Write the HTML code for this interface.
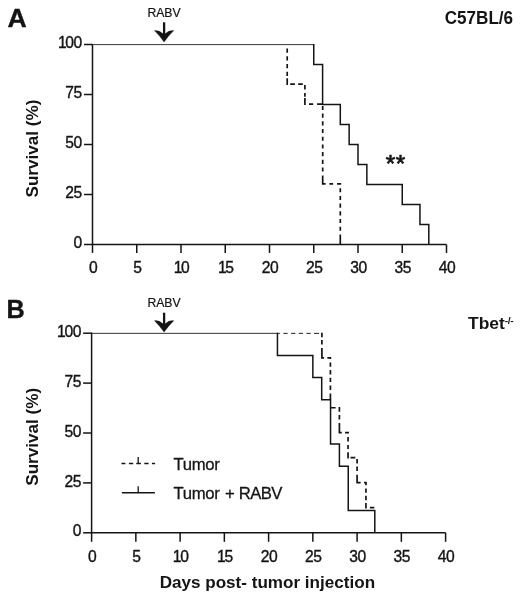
<!DOCTYPE html>
<html lang="en">
<head>
<meta charset="utf-8">
<title>Survival curves</title>
<style>
html,body{margin:0;padding:0;background:#fff;}
svg{display:block;}
text{font-family:"Liberation Sans", sans-serif;fill:#141414;}
.tk{font-size:17.2px;letter-spacing:-0.5px;stroke:#141414;stroke-width:0.4px;}
.b{font-weight:bold;}
.lg{stroke:#141414;stroke-width:0.3px;}
.ax{stroke:#141414;stroke-width:1.5;fill:none;}
.cv{stroke:#141414;stroke-width:1.5;fill:none;}
.dsh{stroke:#141414;stroke-width:1.7;fill:none;}
</style>
</head>
<body>
<svg width="521" height="600" viewBox="0 0 521 600">
<rect width="521" height="600" fill="#ffffff"/>

<!-- Panel A -->
<path class="ax" d="M92.5 44.0V244.5H446.5"/>
<path class="ax" d="M84.0 244.5H92.5"/>
<text class="tk" transform="translate(81.8 248.1) scale(0.91 1)" text-anchor="end">0</text>
<path class="ax" d="M84.0 194.5H92.5"/>
<text class="tk" transform="translate(81.8 198.1) scale(0.91 1)" text-anchor="end">25</text>
<path class="ax" d="M84.0 144.5H92.5"/>
<text class="tk" transform="translate(81.8 148.1) scale(0.91 1)" text-anchor="end">50</text>
<path class="ax" d="M84.0 94.5H92.5"/>
<text class="tk" transform="translate(81.8 98.1) scale(0.91 1)" text-anchor="end">75</text>
<path class="ax" d="M84.0 44.5H92.5"/>
<text class="tk" transform="translate(81.8 48.1) scale(0.91 1)" text-anchor="end">1<tspan dx="-1">00</tspan></text>
<path class="ax" d="M92.5 244.5V252.9"/>
<text class="tk" transform="translate(93.0 273.1) scale(0.91 1)" text-anchor="middle">0</text>
<path class="ax" d="M136.75 244.5V252.9"/>
<text class="tk" transform="translate(137.25 273.1) scale(0.91 1)" text-anchor="middle">5</text>
<path class="ax" d="M181.0 244.5V252.9"/>
<text class="tk" transform="translate(181.5 273.1) scale(0.91 1)" text-anchor="middle">1<tspan dx="-1">0</tspan></text>
<path class="ax" d="M225.25 244.5V252.9"/>
<text class="tk" transform="translate(225.75 273.1) scale(0.91 1)" text-anchor="middle">1<tspan dx="-1">5</tspan></text>
<path class="ax" d="M269.5 244.5V252.9"/>
<text class="tk" transform="translate(270.0 273.1) scale(0.91 1)" text-anchor="middle">20</text>
<path class="ax" d="M313.75 244.5V252.9"/>
<text class="tk" transform="translate(314.25 273.1) scale(0.91 1)" text-anchor="middle">25</text>
<path class="ax" d="M358.0 244.5V252.9"/>
<text class="tk" transform="translate(358.5 273.1) scale(0.91 1)" text-anchor="middle">30</text>
<path class="ax" d="M402.25 244.5V252.9"/>
<text class="tk" transform="translate(402.75 273.1) scale(0.91 1)" text-anchor="middle">35</text>
<path class="ax" d="M446.5 244.5V252.9"/>
<text class="tk" transform="translate(447.0 273.1) scale(0.91 1)" text-anchor="middle">40</text>
<path d="M93 44.6H313.75" stroke="#3a3a3a" stroke-width="1" fill="none"/>
<path class="cv" d="M313.75 44.1H313.75V64.5H322.6V104.5H340.3V124.5H349.15V144.5H358.0V164.5H366.85V184.5H402.25V204.5H419.95V224.5H428.8V244.5"/>
<path class="dsh" d="M287.2 48.5V52.8 M287.2 56.25V60.55 M287.2 64.0V68.3 M287.2 71.75V76.05 M287.2 78.3V84.95 M290.2 84.2H294.9 M298.2 84.2H302.8 M304.9 85.0V89.5 M304.9 93.1V96.7 M304.9 98.1V105.05 M309.0 104.2H313.2 M317.1 104.2H322.6 M322.70000000000005 105.9V110.0 M322.70000000000005 113.6V117.7 M322.70000000000005 121.3V125.4 M322.70000000000005 129.0V133.1 M322.70000000000005 136.7V140.8 M322.70000000000005 144.4V148.5 M322.70000000000005 152.1V156.2 M322.70000000000005 159.8V163.9 M322.70000000000005 167.5V171.6 M322.70000000000005 175.4V184.75 M322.7 183.9H325.6 M329.4 183.9H333.1 M337.05 183.9H341.15 M340.3 188.2V192.3 M340.3 195.9V200.0 M340.3 203.6V207.7 M340.3 211.3V215.4 M340.3 219.0V223.1 M340.3 226.7V230.8 M340.3 234.4V244.5"/>
<!-- Panel B -->
<path class="ax" d="M91.6 332.6V532.8H445.6"/>
<path class="ax" d="M83.1 532.8H91.6"/>
<text class="tk" transform="translate(80.89999999999999 536.4) scale(0.91 1)" text-anchor="end">0</text>
<path class="ax" d="M83.1 482.9H91.6"/>
<text class="tk" transform="translate(80.89999999999999 486.5) scale(0.91 1)" text-anchor="end">25</text>
<path class="ax" d="M83.1 433.0H91.6"/>
<text class="tk" transform="translate(80.89999999999999 436.6) scale(0.91 1)" text-anchor="end">50</text>
<path class="ax" d="M83.1 383.1H91.6"/>
<text class="tk" transform="translate(80.89999999999999 386.7) scale(0.91 1)" text-anchor="end">75</text>
<path class="ax" d="M83.1 333.2H91.6"/>
<text class="tk" transform="translate(80.89999999999999 336.8) scale(0.91 1)" text-anchor="end">1<tspan dx="-1">00</tspan></text>
<path class="ax" d="M91.6 532.8V541.8"/>
<text class="tk" transform="translate(92.1 561.9) scale(0.91 1)" text-anchor="middle">0</text>
<path class="ax" d="M135.85 532.8V541.8"/>
<text class="tk" transform="translate(136.35 561.9) scale(0.91 1)" text-anchor="middle">5</text>
<path class="ax" d="M180.1 532.8V541.8"/>
<text class="tk" transform="translate(180.6 561.9) scale(0.91 1)" text-anchor="middle">1<tspan dx="-1">0</tspan></text>
<path class="ax" d="M224.35 532.8V541.8"/>
<text class="tk" transform="translate(224.85 561.9) scale(0.91 1)" text-anchor="middle">1<tspan dx="-1">5</tspan></text>
<path class="ax" d="M268.6 532.8V541.8"/>
<text class="tk" transform="translate(269.1 561.9) scale(0.91 1)" text-anchor="middle">20</text>
<path class="ax" d="M312.85 532.8V541.8"/>
<text class="tk" transform="translate(313.35 561.9) scale(0.91 1)" text-anchor="middle">25</text>
<path class="ax" d="M357.1 532.8V541.8"/>
<text class="tk" transform="translate(357.6 561.9) scale(0.91 1)" text-anchor="middle">30</text>
<path class="ax" d="M401.35 532.8V541.8"/>
<text class="tk" transform="translate(401.85 561.9) scale(0.91 1)" text-anchor="middle">35</text>
<path class="ax" d="M445.6 532.8V541.8"/>
<text class="tk" transform="translate(446.1 561.9) scale(0.91 1)" text-anchor="middle">40</text>
<path d="M92 333.35H280.1" stroke="#333" stroke-width="1" fill="none"/>
<path d="M283.4 333.35H287.7 M291.07 333.35H295.37 M298.74 333.35H303.04 M306.41 333.35H310.71 M314.0 333.35H319.1" stroke="#222" stroke-width="1" fill="none"/>
<path class="dsh" d="M321.9 332.8V337.2 M321.9 340.1V344.5 M321.9 348.1V358.7 M321.9 357.85H324.1 M327.4 357.85H331.15 M330.40000000000003 357.85V359.1 M330.40000000000003 362.4V366.8 M330.40000000000003 370.1V374.5 M330.40000000000003 377.7V382.1 M330.40000000000003 385.6V390.0 M330.40000000000003 393.4V399.6 M330.7 407.75H335.65 M339.4 407.0V411.8 M339.4 415.1V419.5 M339.4 423.1V433.55 M339.4 432.7H341.8 M345.0 432.7H349.0 M348.05 437.0V441.4 M348.05 445.1V449.1 M348.05 452.35V458.5 M350.5 457.65H355.3 M357.1 458.9V463.4 M357.1 466.6V471.0 M357.1 474.7V483.45 M357.1 482.6H360.65 M364.0 482.6H366.8 M365.95 482.6V485.3 M365.95 488.5V492.7 M365.95 495.8V500.2 M365.95 503.1V508.5 M369.9 507.55H374.3"/>
<path class="cv" d="M277.45 332.8H277.45V355.38H312.85V377.56H321.7V399.73H330.55V444.09H339.4V466.27H348.25V510.62H374.8V532.8"/>
<path d="M164.1 22.3V37" stroke="#141414" stroke-width="2.3" fill="none"/><path d="M164.1 42 Q159.7 35.7 154.5 30.6 Q159.1 30.0 163.0 33.7 L165.2 33.7 Q169.1 30.0 173.7 30.6 Q168.5 35.7 164.1 42 Z" fill="#141414" stroke="#141414" stroke-width="0.4" stroke-linejoin="miter"/>
<path d="M164.1 312.7V327.1" stroke="#141414" stroke-width="2.3" fill="none"/><path d="M164.1 332.1 Q159.7 325.8 154.5 320.7 Q159.1 320.1 163.0 323.8 L165.2 323.8 Q169.1 320.1 173.7 320.7 Q168.5 325.8 164.1 332.1 Z" fill="#141414" stroke="#141414" stroke-width="0.4" stroke-linejoin="miter"/>
<text x="164" y="16.75" font-size="12.2" stroke="#141414" stroke-width="0.2" text-anchor="middle">RABV</text>
<text x="164" y="307.4" font-size="12.2" stroke="#141414" stroke-width="0.2" text-anchor="middle">RABV</text>
<text class="b" x="7.5" y="26.8" font-size="26.6" stroke="#141414" stroke-width="0.35">A</text>
<text class="b" transform="translate(6.4 317.5) scale(0.95 1)" font-size="26.6" stroke="#141414" stroke-width="0.35">B</text>
<text class="b" transform="translate(513.1 24) scale(0.96 1)" font-size="17.8" text-anchor="end">C57BL/6</text>
<text class="b" transform="translate(468 329) scale(1.07 1)" font-size="16.3">Tbet<tspan font-size="9.6" dy="-5.4" dx="0" letter-spacing="-0.4">-/-</tspan></text>
<text class="b" transform="translate(38.2 148.6) rotate(-90)" font-size="17.1" text-anchor="middle">Survival (%)</text>
<text class="b" transform="translate(38.2 436.8) rotate(-90)" font-size="17.1" text-anchor="middle">Survival (%)</text>
<text class="b" x="267.4" y="588" font-size="16.2" text-anchor="middle" textLength="215.4" lengthAdjust="spacingAndGlyphs">Days post- tumor injection</text>
<text x="385.7" y="172.3" font-size="24.3" stroke="#141414" stroke-width="0.7" letter-spacing="0.5">**</text>
<path class="cv" d="M121.5 463.6H125.4 M128.9 463.6H133.2 M136.3 463.6H140.9 M144.3 463.6H148.6 M151.9 463.6H155.1"/>
<path class="cv" d="M138.2 457.1V463.6" style="stroke-width:1.3"/>
<path class="cv" d="M121.9 492.7H154.9"/>
<path class="cv" d="M138.2 486.2V492.7" style="stroke-width:1.3"/>
<text class="lg" x="173.5" y="469.7" font-size="16.7" letter-spacing="-0.35">Tumor</text>
<text class="lg" x="173.5" y="498.8" font-size="16.7" letter-spacing="-0.35" word-spacing="1.4">Tumor + <tspan dx="-1.3" letter-spacing="-0.6">RABV</tspan></text>
</svg>
</body>
</html>
